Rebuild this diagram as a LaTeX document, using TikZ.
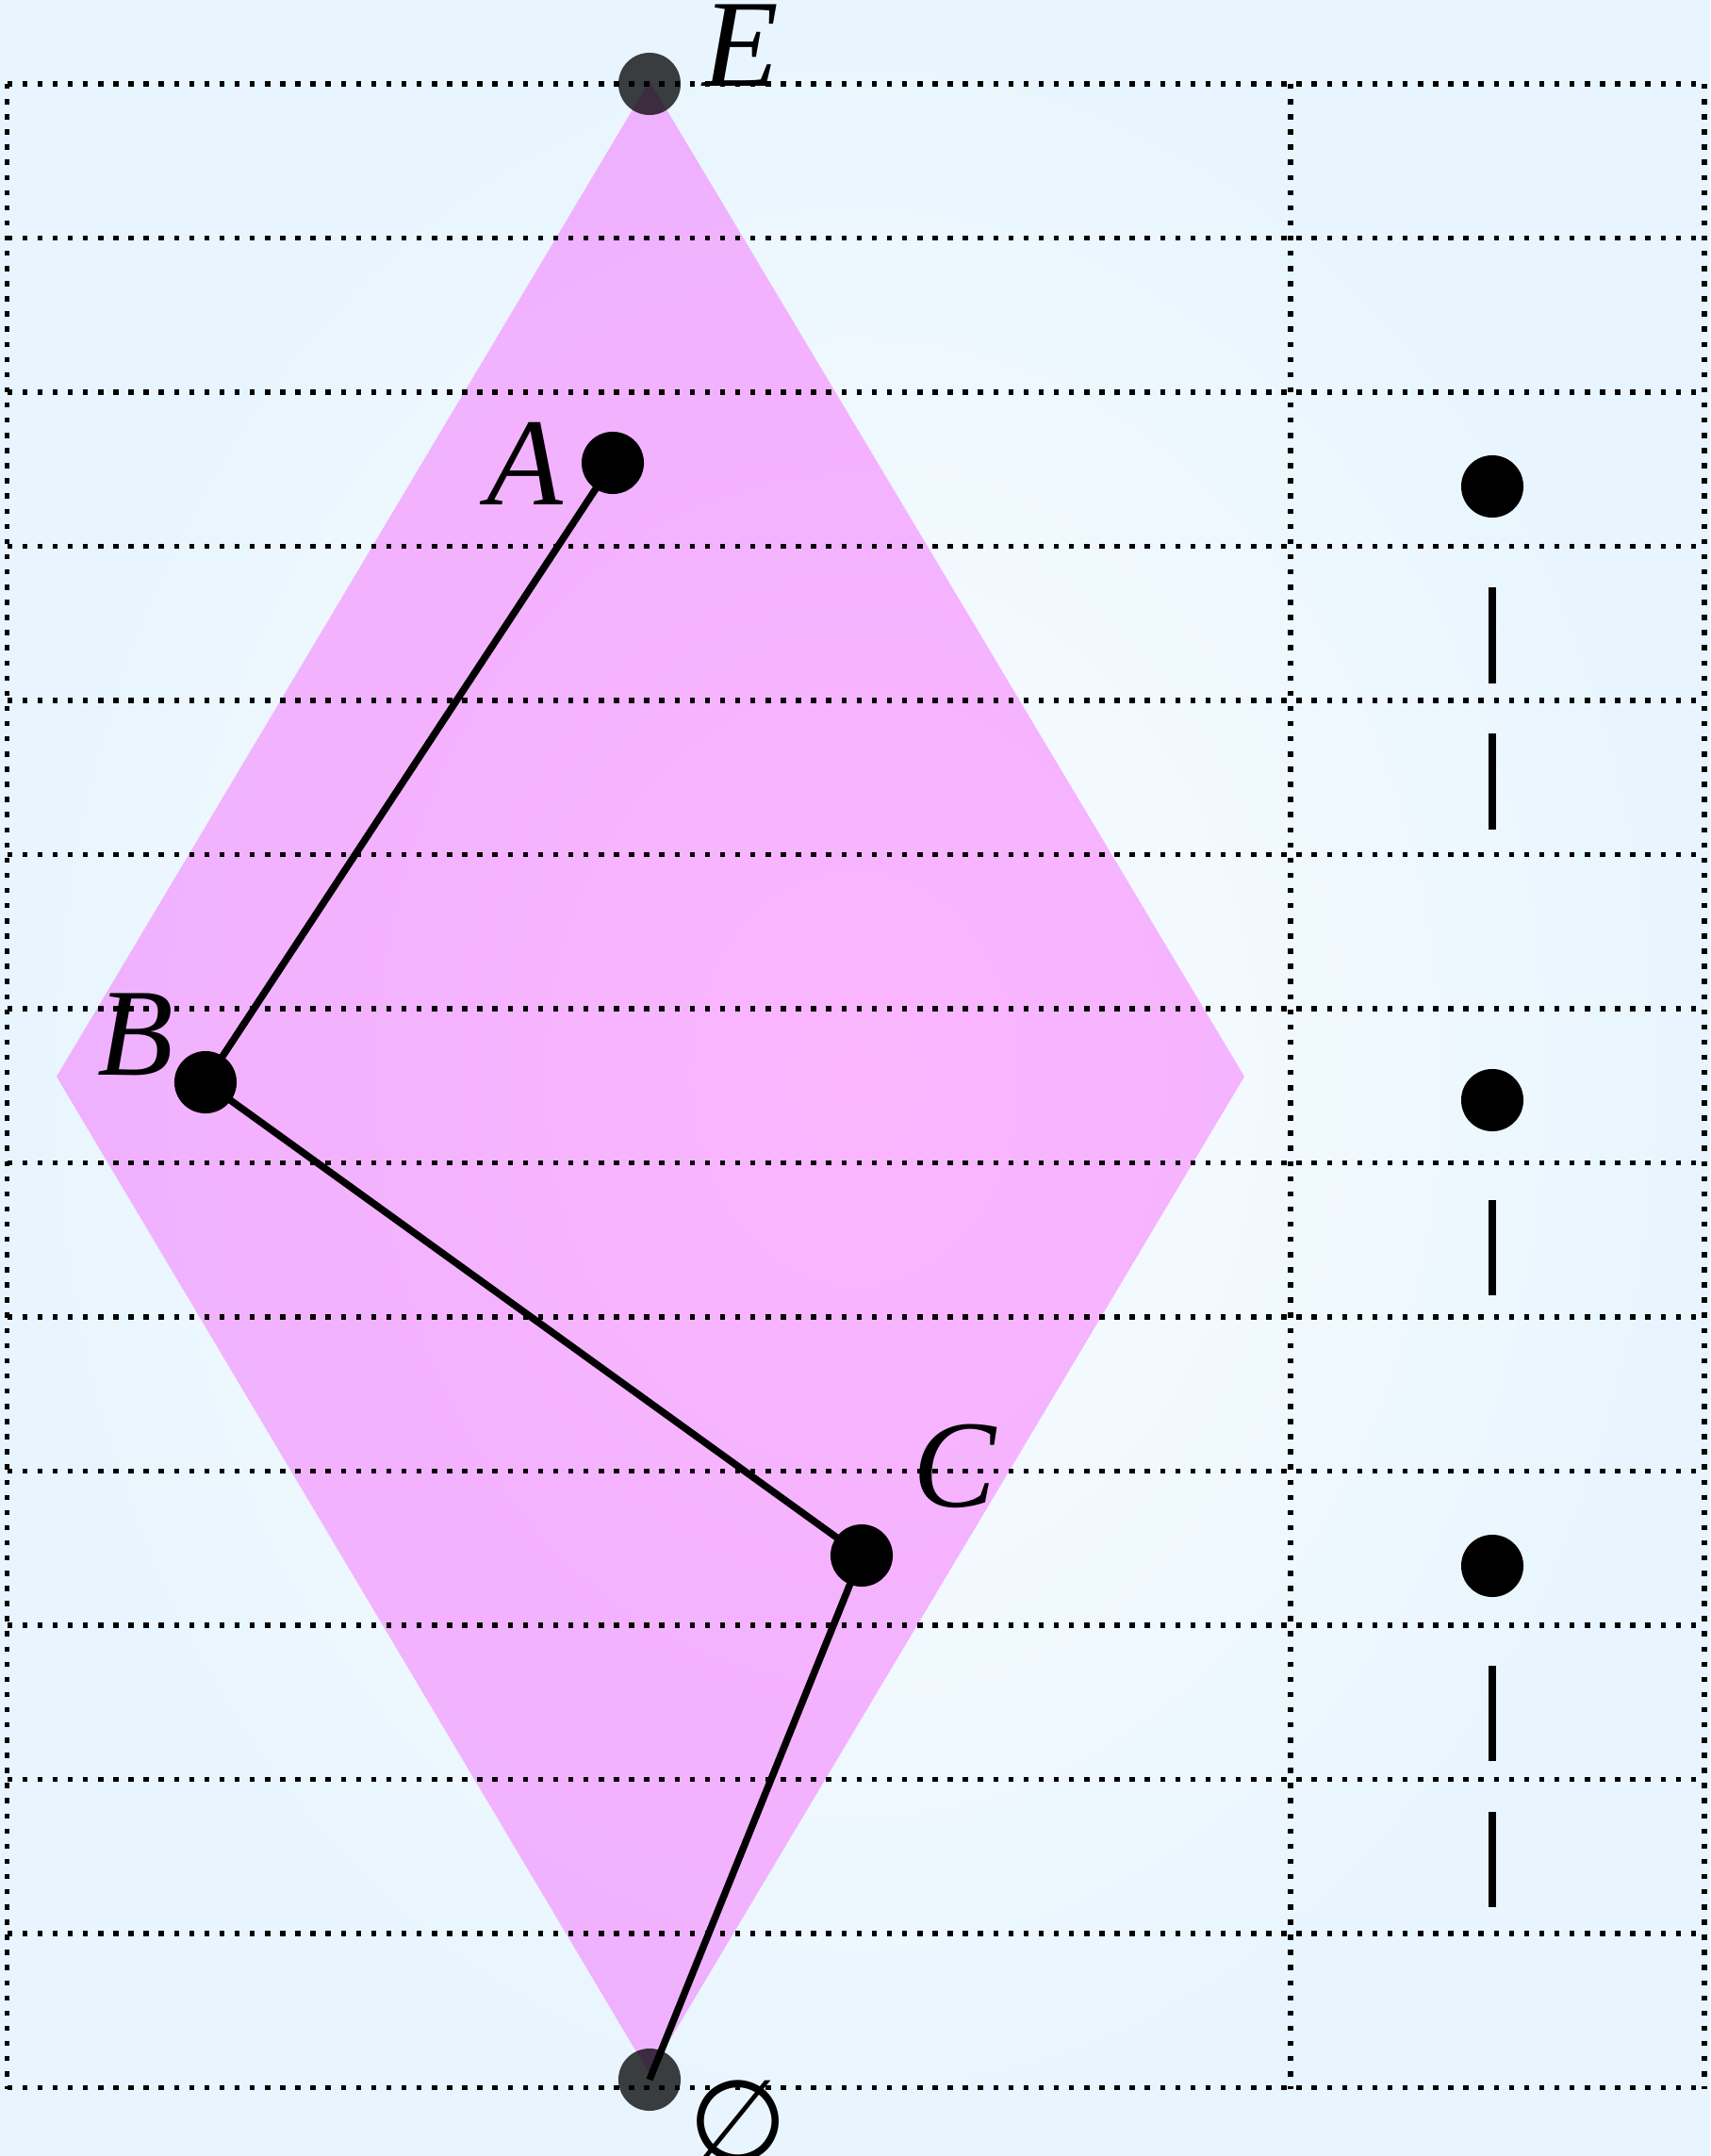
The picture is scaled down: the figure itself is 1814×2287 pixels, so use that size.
\documentclass[tikz,border=0pt]{standalone}
\usepackage{fontspec}
\newfontfamily\lblfont{Liberation Serif}
\newfontfamily\symfont{DejaVu Sans}
\definecolor{bginner}{HTML}{FAFDFF}
\definecolor{bgouter}{HTML}{E8F5FE}
\definecolor{latpink}{RGB}{255,0,255}
\begin{document}
\begin{tikzpicture}[x=0.061162mm, y=-0.061162mm,
  dot/.style={circle, fill=black, inner sep=0pt, minimum size=4.04mm},
  ghost/.style={circle, fill=black, fill opacity=0.75, inner sep=0pt, minimum size=4.04mm},
  lbl/.style={inner sep=0pt, font=\lblfont\itshape\fontsize{23}{27}\selectfont},
  symlbl/.style={inner sep=0pt, font=\symfont\fontsize{21}{25}\selectfont},
  edgeline/.style={line width=1.3pt},
  gridline/.style={line width=0.95pt, dash pattern=on 0.95pt off 1.85pt},
  barline/.style={line width=1.4pt}]
\useasboundingbox (0,0) rectangle (1814,2287);
\shade[inner color=bginner, outer color=bgouter] (0,0) rectangle (1814,2287);
% lattice region
\fill[latpink, fill opacity=0.28] (689,86) -- (1320,1142) -- (689,2200) -- (60,1142) -- cycle;
% dotted grid
\foreach \k in {0,...,13}
  \draw[gridline] (7.5,{89+\k*163.5}) -- (1808,{89+\k*163.5});
\draw[gridline] (7.5,89) -- (7.5,2215.5);
\draw[gridline] (1369,89) -- (1369,2215.5);
\draw[gridline] (1808,89) -- (1808,2215.5);
% nodes
\node[dot] (A) at (650,491) {};
\node[dot] (B) at (218,1148) {};
\node[dot] (C) at (914,1650) {};
\node[ghost] (E) at (689,89) {};
\node[ghost] (O) at (689,2206) {};
% chain
\draw[edgeline] (A.center) -- (B.center);
\draw[edgeline] (B.center) -- (C.center);
\draw[edgeline] (C.center) -- (O.center);
% labels
\node[lbl] (Elbl) at (786,48) {E};
\node[lbl] (Albl) at (557,492) {A};
\node[lbl] (Blbl) at (144,1097) {B};
\node[lbl] (Clbl) at (1013,1555) {C};
\node[symlbl] (Olbl) at (783,2250) {∅};
% right column
\node[dot] (r1) at (1583,516) {};
\node[dot] (r2) at (1583,1167) {};
\node[dot] (r3) at (1583,1661) {};
\draw[barline] (1583,623) -- (1583,725);
\draw[barline] (1583,778) -- (1583,880);
\draw[barline] (1583,1273) -- (1583,1374);
\draw[barline] (1583,1767) -- (1583,1868);
\draw[barline] (1583,1922) -- (1583,2023);
\end{tikzpicture}
\end{document}
